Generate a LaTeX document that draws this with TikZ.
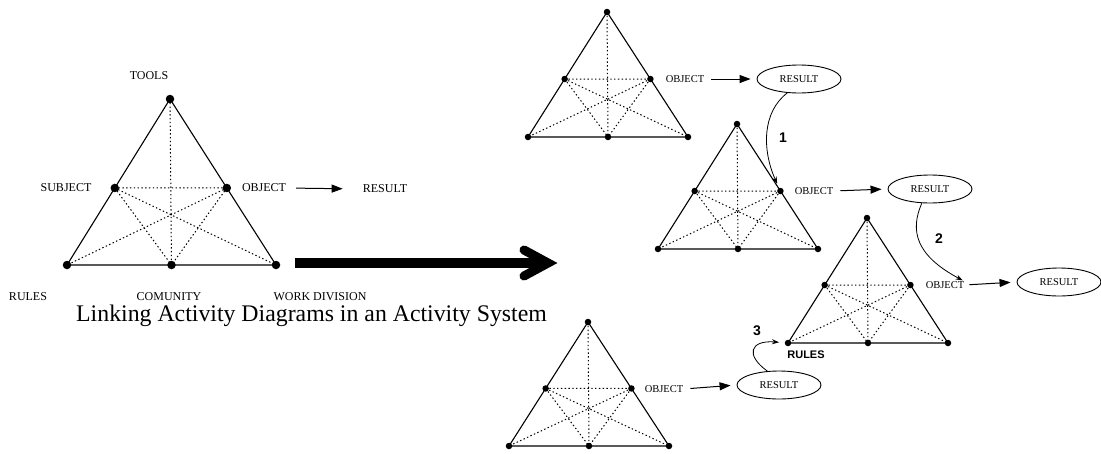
\documentclass[tikz,border=0pt]{standalone}
\usepackage{fontspec}
\setmainfont{Liberation Serif}
\newfontfamily\numfont{Liberation Sans}
\usetikzlibrary{calc,arrows.meta,shapes.geometric}
\tikzset{
  edge/.style={line width=1.1pt, line join=round},
  dotline/.style={line width=1pt, dash pattern=on 1.4pt off 2.4pt},
  bigdot/.style={circle, fill=black, inner sep=0pt, minimum size=8.5pt},
  smalldot/.style={circle, fill=black, inner sep=0pt, minimum size=6.5pt},
  biglbl/.style={font=\fontsize{12}{12}\selectfont, inner sep=0pt, text depth=0pt},
  smlbl/.style={font=\fontsize{10.5}{10.5}\selectfont, inner sep=0pt, text depth=0pt},
  res/.style={ellipse, draw, line width=0.9pt, minimum width=84pt, minimum height=28pt, inner sep=0pt, font=\fontsize{10.5}{10.5}\selectfont, text depth=0pt},
  sarrow/.style={line width=1pt, -{Triangle[length=11pt,width=8pt]}},
  curvearrow/.style={line width=0.8pt, -{Stealth[length=7pt,width=5pt]}},
  numlbl/.style={font=\numfont\bfseries\fontsize{14}{14}\selectfont, inner sep=0pt, text depth=0pt},
}
\newcommand\acttriangle[5]{%
  \coordinate (#1T) at #2; \coordinate (#1A) at #3; \coordinate (#1C) at #4;
  \draw[edge] (#1T) -- (#1A) -- (#1C) -- cycle;
  \node[#5] (#1t) at (#1T) {};
  \node[#5] (#1a) at (#1A) {};
  \node[#5] (#1c) at (#1C) {};
  \node[#5] (#1b) at ($(#1A)!0.5!(#1C)$) {};
  \node[#5] (#1l) at ($(#1T)!0.536!(#1A)$) {};
  \node[#5] (#1r) at ($(#1T)!0.536!(#1C)$) {};
  \draw[dotline] (#1t.center) -- (#1b.center)
    (#1l.center) -- (#1r.center)
    (#1l.center) -- (#1b.center)
    (#1l.center) -- (#1c.center)
    (#1r.center) -- (#1a.center)
    (#1r.center) -- (#1b.center);
}
\begin{document}
\begin{tikzpicture}[x=1pt,y=-1pt]
\useasboundingbox (0,0) rectangle (1101,453);

% ---------- big triangle ----------
\acttriangle{g}{(170,99)}{(67,265)}{(276,265)}{bigdot}
\node[biglbl] (tools) at (149,76) {TOOLS};
\node[biglbl] (subject) at (66,188) {SUBJECT};
\node[biglbl] (gobj) at (264,188) {OBJECT};
\node[biglbl] (gres) at (385,189) {RESULT};
\node[biglbl] (rules) at (28,297) {RULES};
\node[biglbl] (comunity) at (169,297) {COMUNITY};
\node[biglbl] (workdiv) at (320,297) {WORK DIVISION};
\draw[sarrow, shorten <=10pt, shorten >=20pt] (gobj.east) -- (gres.west);
\node[anchor=base west, inner sep=0pt, font=\fontsize{23.8}{23.8}\selectfont] (caption) at (76,321) {Linking Activity Diagrams in an Activity System};

% ---------- big arrow ----------
\coordinate (bigA) at (295,263);
\coordinate (bigB) at (548,263);
\draw[line width=10pt] (bigA) -- ($(bigB)+(-8,0)$);
\draw[line width=9pt, line cap=round, line join=miter, miter limit=10]
  ($(bigB)+(-24,-13)$) -- (bigB) -- ($(bigB)+(-24,13)$);

% ---------- T1 ----------
\acttriangle{p}{(607,12)}{(528,137)}{(688,137)}{smalldot}
\node[smlbl] (pobj) at (685,79) {OBJECT};
\node[res] (pres) at (799,79) {RESULT};
\draw[sarrow, shorten <=7pt, shorten >=6pt] (pobj.east) -- (pres.west);

% ---------- T2 ----------
\acttriangle{q}{(737,124)}{(658,249)}{(818,249)}{smalldot}
\node[smlbl] (qobj) at (814,191) {OBJECT};
\node[res] (qres) at (930,189) {RESULT};
\draw[sarrow, shorten <=7pt, shorten >=6pt] (qobj.east) -- (qres.west);

% ---------- T3 ----------
\acttriangle{r}{(867,218)}{(788,343)}{(948,343)}{smalldot}
\node[smlbl] (robj) at (945,285) {OBJECT};
\node[res] (rres) at (1059,282) {RESULT};
\draw[sarrow, shorten <=5pt, shorten >=6pt] (robj.east) -- (rres.west);
\node[font=\numfont\bfseries\fontsize{11}{11}\selectfont, inner sep=0pt, text depth=0pt] (rrules) at (806,355) {RULES};

% ---------- T4 ----------
\acttriangle{s}{(588,322)}{(509,446)}{(669,446)}{smalldot}
\node[smlbl] (sobj) at (664,389) {OBJECT};
\node[res] (sres) at (779,385) {RESULT};
\draw[sarrow, shorten <=7pt, shorten >=6pt] (sobj.east) -- (sres.west);

% ---------- linking curves ----------
\draw[curvearrow, shorten >=8pt] (pres.230) .. controls (762,112) and (762,150) .. (qr.center);
\node[numlbl] (n1) at (783,138) {1};
\draw[curvearrow, shorten >=2pt] (qres.240) .. controls (910,230) and (915,255) .. (robj.north east);
\node[numlbl] (n2) at (939,239) {2};
\draw[curvearrow, shorten >=9pt] (sres.130) .. controls (745,355) and (750,340) .. (ra.center);
\node[numlbl] (n3) at (757,331) {3};
\end{tikzpicture}
\end{document}
